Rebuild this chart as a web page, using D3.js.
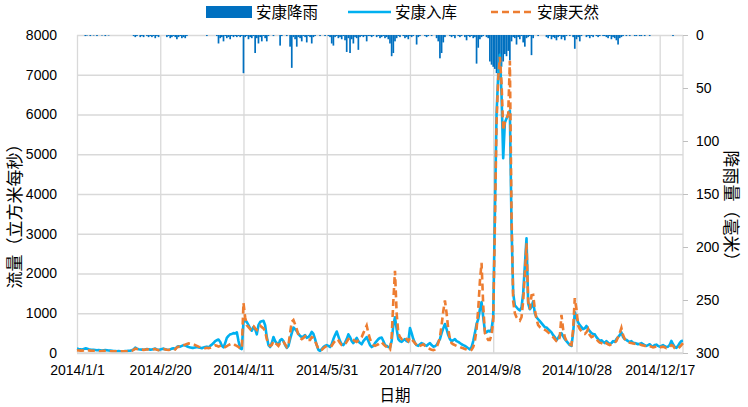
<!DOCTYPE html>
<html><head><meta charset="utf-8">
<script src="https://cdn.jsdelivr.net/npm/d3@7"></script>
<style>body{margin:0;background:#fff}svg{display:block}</style>
</head><body><svg id="c" width="748" height="407"></svg>
<script>
// ---- DATA ----
const startDate = "2014-01-01";
const dateTickLabels = ["2014/1/1","2014/2/20","2014/4/11","2014/5/31","2014/7/20","2014/9/8","2014/10/28","2014/12/17"];
const dateTickDays = [0,50,100,150,200,250,300,350];
const flowTicks = [0,1000,2000,3000,4000,5000,6000,7000,8000];
const rainTicks = [0,50,100,150,200,250,300];
const seriesNames = ["安康降雨","安康入库","安康天然"];

// daily rainfall (mm), 365 days
const rain = [
0,0,0,0,0,1,0.5,0,1,0,
0.5,0,1,0,0,0.5,0,1,0,0.5,
0,0,0,0,0,0,0,0,0,0,
0,0,0,0,1,2,1,0,2,1,
2,0,1,2,1,2,1,3,1,2,
0,0,0,0,2,1,3,2,1,2,
4,2,1,3,2,3,1,0,0,0,
0,0,0,0,0,0,0,0,1,0,
0,0,0,0,1,8,3,2,6,1,
3,2,4,1,2,1,2,1,2,1,
36,2,1,4,2,3,1,17,3,8,
2,6,1,3,6,1,0,0,1,0,
0,0,10,1,0,0,1,0,11,31,
2,4,11,2,3,6,1,2,7,1,
2,8,2,1,0,0,1,0,0,1,
0,1,2,8,10,2,1,3,2,4,
1,5,16,3,17,4,8,2,3,14,
2,1,2,1,6,1,1,2,1,0,
2,1,3,2,1,3,2,4,8,20,
17,6,3,1,2,0,1,3,2,4,
1,2,1,0,9,2,1,0,0,1,
2,1,0,1,0,0,3,6,22,17,
7,2,0,0,1,2,1,3,0,1,
2,1,0,2,5,1,2,1,3,2,
27,12,4,2,1,0,2,3,25,28,
30,32,36,34,38,30,25,18,20,15,
24,6,2,3,9,2,4,1,7,11,
3,2,1,19,3,0,0,1,0,0,
0,0,2,3,1,4,2,3,5,2,
1,4,2,5,1,0,1,0,2,13,
4,2,6,1,0,0,2,1,3,1,
2,0,1,2,1,0,1,1,2,3,
1,4,2,3,5,9,3,2,1,0,
1,0,1,0,0,1,1,0,1,1,
0,1,0,0,1,0,0,0,0,0,
0,0,0,0,0,0,0,0,1,0,
0,0,0,0,0];

// 安康入库 (m3/s), 365 days
const inflow = [
110,100,95,90,100,117,110,95,85,80,
80,75,70,75,70,65,70,75,70,65,
60,55,50,50,45,50,45,40,45,50,
50,55,60,70,90,134,110,95,90,85,
80,90,100,95,85,90,100,110,90,75,
90,100,110,95,85,80,90,110,120,100,
150,170,160,180,200,190,170,150,140,130,
130,140,150,140,130,120,140,150,160,140,
180,210,250,300,320,340,280,180,140,250,
380,430,470,480,500,490,520,300,120,100,
790,820,780,700,620,560,650,600,470,700,
780,800,810,700,400,200,150,250,400,300,
250,200,320,350,300,200,130,180,350,500,
640,600,550,480,430,400,420,450,380,400,
450,530,480,350,200,80,50,100,150,180,
200,180,150,220,350,450,540,420,300,220,
200,260,350,470,400,300,250,320,380,300,
250,220,300,350,400,300,200,150,180,250,
300,350,380,390,300,200,180,150,140,300,
700,900,600,350,300,280,320,350,300,280,
630,500,350,250,200,180,220,250,230,200,
180,220,250,200,160,170,200,280,350,500,
620,730,600,450,350,300,320,350,300,280,
250,220,200,180,150,120,93,150,300,500,
730,850,1100,1280,900,560,520,560,540,600,
900,3500,6000,7000,7500,6500,4900,5800,5900,6000,
6100,3200,1500,1200,1150,1100,1070,1150,1500,2200,
2885,1250,1100,1165,1300,1000,900,850,800,750,
700,650,640,600,560,520,450,400,320,380,
450,500,420,350,300,250,200,180,500,1025,
900,770,700,650,600,620,680,600,550,500,
480,470,400,350,300,320,280,250,300,260,
220,250,300,280,350,400,450,520,400,350,
330,300,280,300,260,250,240,220,230,250,
220,200,180,200,220,180,160,200,210,180,
160,180,200,170,150,160,200,305,220,150,
130,180,250,300,305];

// 安康天然 (m3/s), 365 days
const natural = [
70,65,60,60,65,75,70,65,60,55,
55,50,55,50,45,50,55,50,45,45,
45,40,40,45,40,35,40,45,40,45,
45,50,55,60,80,110,100,90,80,85,
80,85,95,90,80,85,95,100,80,70,
80,90,100,90,80,75,85,100,110,90,
140,160,150,170,190,210,230,240,230,220,
220,200,180,160,150,140,130,120,130,120,
130,150,170,190,180,160,180,200,160,150,
170,200,220,240,230,200,180,150,120,110,
1260,900,700,650,600,700,680,620,580,650,
690,650,620,550,350,220,180,200,300,250,
220,180,250,300,280,220,150,200,500,790,
830,720,600,450,380,350,380,420,350,330,
330,400,380,300,200,100,70,80,120,150,
180,200,190,180,250,300,350,320,250,200,
190,220,280,350,380,350,330,300,280,320,
350,400,500,600,690,500,350,250,200,180,
200,220,250,280,220,180,150,100,80,400,
1300,2070,1000,500,400,350,380,400,350,300,
390,350,300,250,200,150,180,200,220,180,
150,120,100,80,70,90,150,250,400,700,
1050,1320,1000,600,350,250,220,200,180,160,
150,130,120,100,90,70,60,80,150,300,
600,1100,1800,2270,1200,500,400,330,330,450,
800,3200,5800,6900,7450,6800,5600,5800,5900,6000,
7350,3500,1300,1000,900,850,814,900,1300,2000,
2760,1300,1100,1450,1460,1100,850,700,650,620,
600,580,560,520,480,450,400,350,300,280,
400,960,600,400,300,250,220,200,600,1380,
1100,690,600,550,500,480,520,600,450,400,
420,390,350,300,260,250,230,200,250,220,
200,220,250,260,300,400,500,630,450,350,
300,280,260,250,240,230,220,210,220,200,
190,180,160,150,170,160,140,150,170,150,
140,150,160,140,120,130,150,200,180,120,
100,120,150,200,250];

// ---- CHART ----
const svg = d3.select("#c");
const L = 77, R = 683, T = 35, B = 353;
const cjk = "'Noto Sans CJK SC','Noto Sans',sans-serif";
const num = "'Liberation Sans','DejaVu Sans',sans-serif";
const x = d3.scaleLinear().domain([0, 364]).range([L, R]);
const y = d3.scaleLinear().domain([0, 8000]).range([B, T]);
const yR = d3.scaleLinear().domain([0, 300]).range([T, B]);
const grid = "#d9d9d9";

// horizontal grid
svg.append("g").attr("transform",`translate(${L},0)`)
  .call(d3.axisLeft(y).tickValues(flowTicks).tickSize(-(R-L)).tickFormat(""))
  .call(g=>g.select(".domain").remove())
  .call(g=>g.selectAll("line").attr("stroke",grid).attr("stroke-width",1.3));
// vertical grid
svg.append("g").attr("transform",`translate(0,${B})`)
  .call(d3.axisBottom(x).tickValues(dateTickDays).tickSize(-(B-T)).tickFormat(""))
  .call(g=>g.select(".domain").remove())
  .call(g=>g.selectAll("line").attr("stroke",grid).attr("stroke-width",1.3));
svg.append("line").attr("x1",R).attr("x2",R).attr("y1",T).attr("y2",B).attr("stroke",grid).attr("stroke-width",1.3);

// rain bars
const days = d3.range(rain.length);
svg.append("g").selectAll("rect").data(days.filter(d=>rain[d]>0)).join("rect")
  .attr("x", d=>x(d)-0.85).attr("width",1.7)
  .attr("y", yR(0)).attr("height", d=>yR(rain[d])-yR(0))
  .attr("fill","#0070C0");

// lines
const line = arr => d3.line().x((d,i)=>x(i)).y(d=>y(d))(arr);
svg.append("path").attr("d",line(inflow)).attr("fill","none")
  .attr("stroke","#00B0F0").attr("stroke-width",2.6).attr("stroke-linejoin","round");
svg.append("path").attr("d",line(natural)).attr("fill","none")
  .attr("stroke","#ED7D31").attr("stroke-width",2.6).attr("stroke-dasharray","7,4");

// bottom axis line
svg.append("line").attr("x1",L).attr("x2",R).attr("y1",B).attr("y2",B).attr("stroke",grid).attr("stroke-width",1.3);

// left axis labels
const gl = svg.append("g").attr("transform",`translate(${L},0)`)
  .call(d3.axisLeft(y).tickValues(flowTicks).tickSize(0).tickPadding(20).tickFormat(d3.format("d")));
gl.select(".domain").remove();
gl.selectAll("text").attr("font-family",num).attr("font-size",14).attr("fill","#000");

// right axis
const gr = svg.append("g").attr("transform",`translate(${R},0)`)
  .call(d3.axisRight(yR).tickValues(rainTicks).tickSize(5).tickPadding(8).tickFormat(d3.format("d")));
gr.select(".domain").remove();
gr.selectAll("line").attr("stroke","#bfbfbf");
gr.selectAll("text").attr("font-family",num).attr("font-size",14).attr("fill","#000");

// bottom labels
const gb = svg.append("g").attr("transform",`translate(0,${B})`)
  .call(d3.axisBottom(x).tickValues(dateTickDays).tickSize(0).tickPadding(12)
        .tickFormat((d,i)=>dateTickLabels[i]));
gb.select(".domain").remove();
gb.selectAll("text").attr("font-family",num).attr("font-size",14).attr("fill","#000");

// axis titles
svg.append("text").attr("x",395).attr("y",401).attr("text-anchor","middle")
  .attr("font-family",cjk).attr("font-size",15.5).text("日期");
svg.append("text").attr("transform","translate(21,212) rotate(-90)").attr("text-anchor","middle")
  .attr("font-family",cjk).attr("font-size",17).text("流量（立方米每秒）");
svg.append("text").attr("transform","translate(725,210) rotate(90)").attr("text-anchor","middle")
  .attr("font-family",cjk).attr("font-size",17).text("降雨量（毫米）");

// legend
const lg = svg.append("g").attr("font-family",cjk).attr("font-size",15.5);
lg.append("rect").attr("x",206).attr("y",6).attr("width",46).attr("height",12).attr("fill","#0070C0");
lg.append("text").attr("x",256).attr("y",17.5).text(seriesNames[0]);
lg.append("line").attr("x1",348).attr("x2",391).attr("y1",12).attr("y2",12).attr("stroke","#00B0F0").attr("stroke-width",2.6);
lg.append("text").attr("x",395).attr("y",17.5).text(seriesNames[1]);
lg.append("line").attr("x1",491).attr("x2",532).attr("y1",12).attr("y2",12).attr("stroke","#ED7D31").attr("stroke-width",2.6).attr("stroke-dasharray","7,4");
lg.append("text").attr("x",537).attr("y",17.5).text(seriesNames[2]);
</script></body></html>
